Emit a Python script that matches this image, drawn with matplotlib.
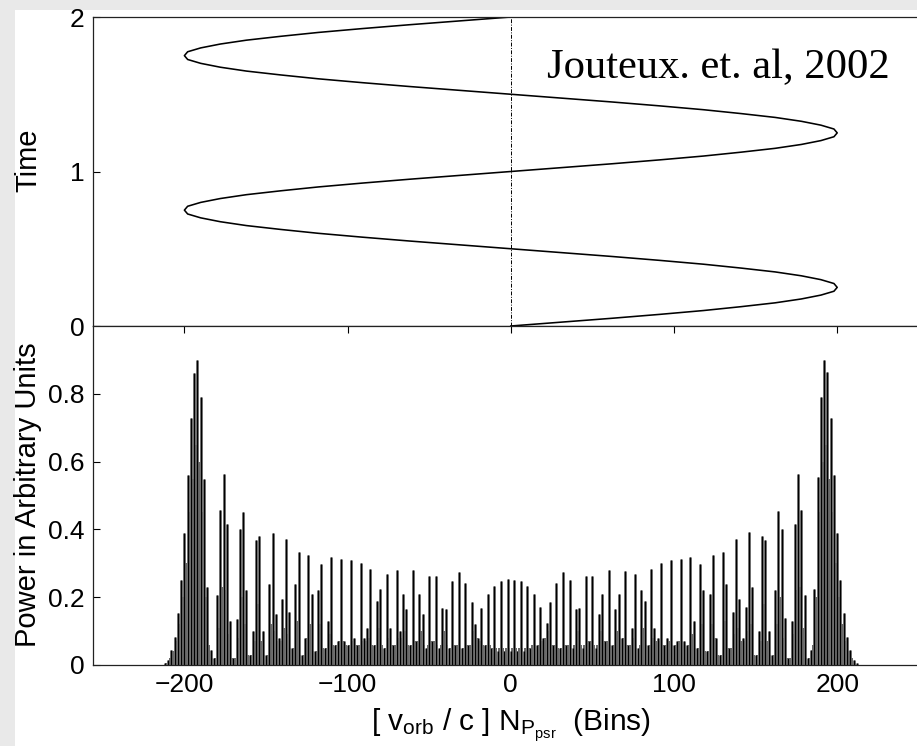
import numpy as np
import matplotlib
matplotlib.use("Agg")
import matplotlib.pyplot as plt
from matplotlib.patches import Rectangle

plt.rcParams['font.family'] = ['Liberation Sans', 'DejaVu Sans']
plt.rcParams['mathtext.fontset'] = 'custom'
plt.rcParams['mathtext.rm'] = 'Liberation Sans'
plt.rcParams['mathtext.it'] = 'Liberation Sans:italic'

# ---- data: top panel (orbital Doppler shift vs time) ----
orbit_time = np.linspace(0, 2, 81)
orbit_shift = [0, 31, 62, 91, 118, 141, 162, 178, 190, 198,
               200, 198, 190, 178, 162, 141, 118, 91, 62, 31,
               0, -31, -62, -91, -118, -141, -162, -178, -190, -198,
               -200, -198, -190, -178, -162, -141, -118, -91, -62, -31,
               0, 31, 62, 91, 118, 141, 162, 178, 190, 198,
               200, 198, 190, 178, 162, 141, 118, 91, 62, 31,
               0, -31, -62, -91, -118, -141, -162, -178, -190, -198,
               -200, -198, -190, -178, -162, -141, -118, -91, -62, -31,
               0]

# ---- data: bottom panel (power spectrum), main harmonics on even bins ----
bins_neg = np.arange(-212, 0, 2)
power_neg = [0.005, 0.015, 0.044, 0.083, 0.152, 0.25, 0.39, 0.56, 0.73, 0.86,
             0.90, 0.79, 0.55, 0.23, 0.044, 0.02, 0.206, 0.456, 0.564, 0.417,
             0.13, 0.02, 0.137, 0.40, 0.45, 0.22, 0.03, 0.1, 0.37, 0.38,
             0.1, 0.03, 0.24, 0.39, 0.15, 0.08, 0.196, 0.373, 0.157, 0.05,
             0.24, 0.333, 0.03, 0.08, 0.324, 0.21, 0.04, 0.22, 0.297, 0.05,
             0.13, 0.319, 0.06, 0.07, 0.314, 0.07, 0.06, 0.309, 0.08, 0.06,
             0.302, 0.08, 0.11, 0.284, 0.06, 0.19, 0.223, 0.05, 0.267, 0.11,
             0.06, 0.28, 0.10, 0.21, 0.164, 0.06, 0.28, 0.07, 0.21, 0.15,
             0.05, 0.262, 0.07, 0.262, 0.05, 0.169, 0.164, 0.05, 0.248, 0.06,
             0.274, 0.05, 0.242, 0.06, 0.186, 0.12, 0.08, 0.169, 0.06, 0.208,
             0.05, 0.232, 0.04, 0.247, 0.04, 0.253]
bins_pos = np.arange(0, 213, 2)
power_pos = [0.04, 0.252, 0.04, 0.247, 0.04, 0.232, 0.05, 0.208, 0.06, 0.17,
             0.08, 0.125, 0.186, 0.06, 0.242, 0.05, 0.274, 0.06, 0.25, 0.05,
             0.164, 0.169, 0.05, 0.262, 0.07, 0.262, 0.05, 0.15, 0.21, 0.07,
             0.28, 0.06, 0.164, 0.21, 0.08, 0.278, 0.06, 0.11, 0.267, 0.05,
             0.22, 0.19, 0.06, 0.284, 0.11, 0.08, 0.302, 0.06, 0.08, 0.309,
             0.06, 0.07, 0.314, 0.07, 0.06, 0.319, 0.13, 0.05, 0.297, 0.22,
             0.04, 0.21, 0.324, 0.08, 0.03, 0.333, 0.24, 0.05, 0.157, 0.373,
             0.196, 0.08, 0.17, 0.392, 0.23, 0.03, 0.1, 0.38, 0.37, 0.1,
             0.03, 0.22, 0.454, 0.40, 0.14, 0.02, 0.13, 0.417, 0.564, 0.456,
             0.206, 0.02, 0.044, 0.225, 0.554, 0.79, 0.90, 0.865, 0.73, 0.56,
             0.39, 0.25, 0.152, 0.083, 0.044, 0.015, 0.005]

# secondary (grey) structure on odd bins
odd_neg = np.arange(-211, 0, 2)
fill_neg = [0.005, 0.02, 0.04, 0.07, 0.12, 0.2,
            0.3, 0.45, 0.55, 0.65, 0.6, 0.45, 0.2, 0.06, 0.02, 0.02,
            0.11, 0.23, 0.22, 0.09, 0.02, 0.02, 0.08, 0.2, 0.12, 0.03,
            0.03, 0.07, 0.18, 0.07, 0.03, 0.03, 0.12, 0.1, 0.07, 0.07,
            0.11, 0.09, 0.05, 0.05, 0.13, 0.03, 0.03, 0.08, 0.12, 0.04,
            0.04, 0.12, 0.05, 0.05, 0.09, 0.06, 0.06, 0.07, 0.07, 0.06,
            0.06, 0.07, 0.06, 0.06, 0.07, 0.07, 0.08, 0.06, 0.06, 0.11,
            0.06, 0.05, 0.08, 0.06, 0.06, 0.08, 0.08, 0.1, 0.06, 0.06,
            0.07, 0.07, 0.1, 0.06, 0.06, 0.07, 0.07, 0.06, 0.06, 0.1,
            0.06, 0.05, 0.06, 0.06, 0.05, 0.05, 0.06, 0.06, 0.1, 0.08,
            0.07, 0.06, 0.06, 0.06, 0.05, 0.05, 0.05, 0.05, 0.05, 0.05]
odd_pos = np.arange(1, 212, 2)
fill_pos = [0.05, 0.05, 0.05, 0.05, 0.05, 0.05, 0.06, 0.06, 0.06, 0.07,
            0.08, 0.1, 0.06, 0.06, 0.05, 0.05, 0.06, 0.06, 0.05, 0.06,
            0.1, 0.06, 0.06, 0.07, 0.07, 0.06, 0.06, 0.1, 0.07, 0.07,
            0.06, 0.06, 0.1, 0.08, 0.08, 0.06, 0.06, 0.08, 0.05, 0.06,
            0.11, 0.06, 0.06, 0.08, 0.07, 0.07, 0.06, 0.06, 0.07, 0.06,
            0.06, 0.07, 0.07, 0.06, 0.06, 0.09, 0.05, 0.05, 0.12, 0.04,
            0.04, 0.12, 0.08, 0.03, 0.03, 0.13, 0.05, 0.05, 0.09, 0.11,
            0.07, 0.07, 0.1, 0.12, 0.03, 0.03, 0.07, 0.18, 0.07, 0.03,
            0.03, 0.12, 0.2, 0.08, 0.02, 0.02, 0.09, 0.22, 0.23, 0.11,
            0.02, 0.02, 0.06, 0.2, 0.45, 0.6, 0.65, 0.55, 0.45, 0.3,
            0.2, 0.12, 0.07, 0.04, 0.02, 0.005]

x_ticks = [-200, -100, 0, 100, 200]
x_tick_labels = ['\u2212200', '\u2212100', '0', '100', '200']
time_ticks = [0, 1, 2]
power_ticks = [0, 0.2, 0.4, 0.6, 0.8]
power_tick_labels = ['0', '0.2', '0.4', '0.6', '0.8']

W, H = 917, 746
fig = plt.figure(figsize=(W / 100, H / 100), dpi=100)
fig.patch.set_facecolor('#e9e9e9')
fig.add_artist(Rectangle((15 / W, 0), 1, 1 - 10 / H, transform=fig.transFigure,
                         facecolor='white', edgecolor='none', zorder=-10))

left = 93 / W
width = (928.6 - 93) / W
ax1 = fig.add_axes([left, 1 - 326 / H, width, (326 - 17) / H])
ax2 = fig.add_axes([left, 1 - 665 / H, width, (665 - 326) / H])

xlim = (-256, 256)

# top panel
ax1.plot(orbit_shift, orbit_time, color='black', lw=1.15)
ax1.plot([0, 0], [0, 2], color='black', lw=0.7, linestyle=(0, (4, 1.5, 1, 1.5)))
ax1.set_xlim(*xlim)
ax1.set_ylim(0, 2)
ax1.set_xticks([])
ax1.set_yticks(time_ticks)
ax1.set_yticklabels([str(t) for t in time_ticks])

# bottom panel
for bx, py in ((odd_neg, fill_neg), (odd_pos, fill_pos)):
    ax2.vlines(bx, 0, py, color='0.4', lw=1.4)
for bx, py in ((bins_neg, power_neg), (bins_pos, power_pos)):
    ax2.vlines(bx, 0, py, color='0.42', lw=2.0)
    ax2.vlines(bx, 0, py, color='black', lw=0.85)
ax2.set_xlim(*xlim)
ax2.set_ylim(0, 1)
ax2.set_xticks(x_ticks)
ax2.set_xticklabels(x_tick_labels)
ax2.set_yticks(power_ticks)
ax2.set_yticklabels(power_tick_labels)

for ax in (ax1, ax2):
    for s in ax.spines.values():
        s.set_linewidth(0.9)
        s.set_color('#222222')
    ax.tick_params(direction='in', length=5, width=0.8, labelsize=19,
                   top=True, right=True, pad=6)

fig.text(28 / W, 1 - 160 / H, 'Time', rotation=90, ha='center', va='center', fontsize=21)
fig.text(28 / W, 1 - 495 / H, 'Power in Arbitrary Units', rotation=90,
         ha='center', va='center', fontsize=21)
fig.text(511 / W, 1 - 731 / H,
         r'$[\ \mathrm{v}_{\mathrm{orb}}\ /\ \mathrm{c}\ ]\ \mathrm{N}_{\mathrm{P}_{\mathrm{psr}}}\ \ (\mathrm{Bins})$',
         ha='center', va='baseline', fontsize=21.5)
fig.text(547 / W, 1 - 78 / H, 'Jouteux. et. al, 2002', family='Liberation Serif',
         fontsize=30.7, ha='left', va='baseline')

fig.savefig('out.png', dpi=100)
